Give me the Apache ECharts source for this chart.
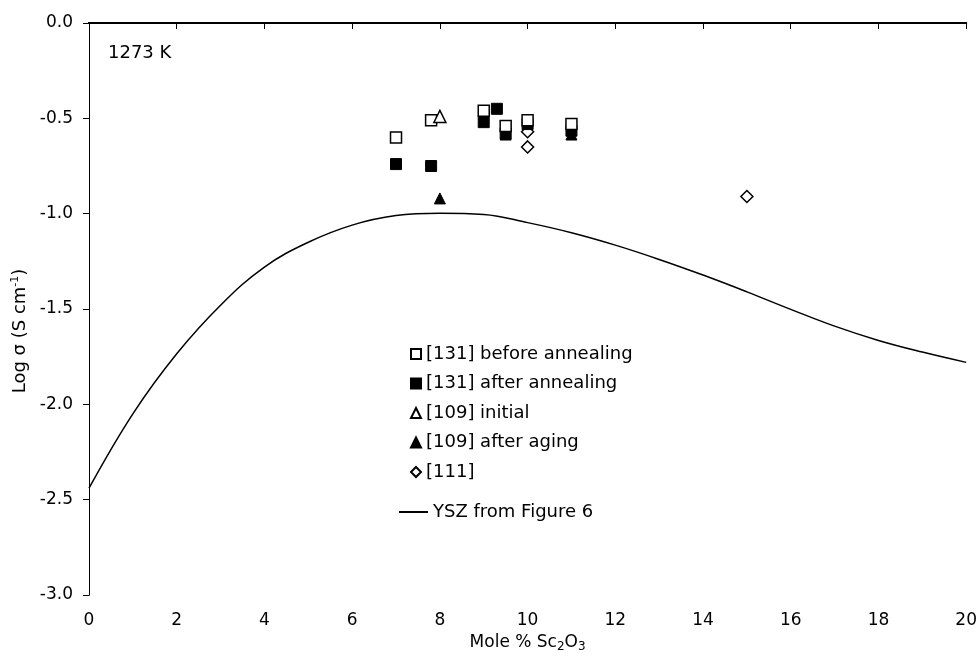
<!DOCTYPE html>
<html>
<head>
<meta charset="utf-8">
<script src="https://cdn.jsdelivr.net/npm/echarts@6/dist/echarts.min.js"></script>
<style>
  html, body { margin: 0; padding: 0; background: #fff; }
  #main { width: 980px; height: 658px; }
</style>
</head>
<body>
<div id="main"></div>
<script>
// [x, log sigma] points
var before131 = [[7, -0.60], [7.8, -0.51], [9, -0.46], [9.5, -0.54], [10, -0.51], [11, -0.53]];
var after131 = [[7, -0.74], [7.8, -0.75], [9, -0.52], [9.3, -0.45], [9.5, -0.58], [10, -0.53], [11, -0.565]];
var initial109 = [[8, -0.49]];
var aging109 = [[8, -0.92], [9.5, -0.585], [11, -0.585]];
var ref111 = [[10, -0.57], [10, -0.65], [15, -0.91]];
// YSZ curve
var yszX = [0, 1, 2, 3, 4, 5, 6, 7, 8, 9, 10, 11, 12, 13, 14, 15, 16, 17, 18, 19, 20];
var yszY = [-2.44, -2.05, -1.735, -1.48, -1.28, -1.15, -1.06, -1.01, -0.998, -1.004, -1.047, -1.10, -1.165, -1.24, -1.322, -1.41, -1.502, -1.59, -1.665, -1.726, -1.78];

var ysz = yszX.map(function (x, i) { return [x, yszY[i]]; });

var font = 'DejaVu Sans';
var myChart = echarts.init(document.getElementById('main'));

var option = {
  animation: false,
  backgroundColor: '#fff',
  textStyle: { fontFamily: font, color: '#000' },
  grid: { left: 89, right: 13, top: 23, bottom: 63 },
  xAxis: [
    {
      type: 'value', min: 0, max: 20, interval: 2,
      name: 'Mole % Sc{sub|2}O{sub|3}',
      nameLocation: 'middle', nameGap: 37,
      nameTextStyle: {
        fontSize: 17, fontFamily: font, color: '#000',
        rich: { sub: { fontSize: 12, verticalAlign: 'bottom', padding: [8, 0, 0, 0], fontFamily: font } }
      },
      axisLine: { lineStyle: { color: '#000', width: 2 } },
      axisTick: { length: 6, lineStyle: { color: '#000' } },
      axisLabel: { fontSize: 17, color: '#000', margin: 17 },
      splitLine: { show: false }
    },
    {
      type: 'value', min: 0, max: 20, position: 'top',
      axisLine: { lineStyle: { color: '#000', width: 2 } },
      axisTick: { show: false }, axisLabel: { show: false }, splitLine: { show: false }
    }
  ],
  yAxis: [
    {
      type: 'value', min: -3, max: 0, interval: 0.5,
      name: 'Log σ (S cm{sup|-1})',
      nameLocation: 'middle', nameGap: 58, nameRotate: 90,
      nameTextStyle: {
        fontSize: 18, fontFamily: font, color: '#000', padding: [0, 44, 0, 0],
        rich: { sup: { fontSize: 11, verticalAlign: 'top', padding: [0, 0, 9, 0], fontFamily: font } }
      },
      axisLine: { show: true, lineStyle: { color: '#000', width: 1 } },
      axisTick: { show: true, length: 6, lineStyle: { color: '#000' } },
      axisLabel: { fontSize: 17, color: '#000', margin: 16, formatter: function (v) { return v.toFixed(1); } },
      splitLine: { show: false }
    },
    {
      type: 'value', min: -3, max: 0, position: 'right',
      axisLine: { show: true, lineStyle: { color: '#000', width: 1 } },
      axisTick: { show: false }, axisLabel: { show: false }, splitLine: { show: false }
    }
  ],
  legend: [
    {
      orient: 'vertical', left: 410, top: 345, padding: 0,
      itemWidth: 10, itemHeight: 10, itemGap: 11.5,
      textStyle: { fontSize: 18, fontFamily: font, color: '#000' },
      data: ['[131] before annealing', '[131] after annealing', '[109] initial', '[109] after aging', '[111]']
    },
    {
      orient: 'vertical', left: 399, top: 503, padding: 0,
      itemWidth: 29, itemHeight: 2,
      textStyle: { fontSize: 18, fontFamily: font, color: '#000' },
      data: [{ name: 'YSZ from Figure 6', icon: 'rect' }]
    }
  ],
  graphic: [
    { type: 'text', left: 108, top: 44, style: { text: '1273 K', font: '18px ' + font, fill: '#000' } }
  ],
  series: [
    {
      name: 'YSZ from Figure 6', type: 'line', smooth: 0.4, showSymbol: false,
      symbol: 'none', lineStyle: { color: '#000', width: 1.5 }, itemStyle: { color: '#000' },
      data: ysz, z: 1
    },
    {
      name: '[131] after annealing', type: 'scatter', symbol: 'rect', symbolSize: 11,
      itemStyle: { color: '#000', borderColor: '#000', borderWidth: 1, opacity: 1 },
      data: after131, z: 3
    },
    {
      name: '[109] after aging', type: 'scatter', symbol: 'triangle', symbolSize: 11,
      itemStyle: { color: '#000', borderColor: '#000', borderWidth: 1, opacity: 1 },
      data: aging109, z: 2
    },
    {
      name: '[111]', type: 'scatter', symbol: 'diamond', symbolSize: 12,
      itemStyle: { color: '#fff', borderColor: '#000', borderWidth: 1.5, opacity: 1 },
      data: ref111, z: 2
    },
    {
      name: '[131] before annealing', type: 'scatter', symbol: 'rect', symbolSize: 11,
      itemStyle: { color: '#fff', borderColor: '#000', borderWidth: 1.5, opacity: 1 },
      data: before131, z: 4
    },
    {
      name: '[109] initial', type: 'scatter', symbol: 'triangle', symbolSize: 12,
      itemStyle: { color: '#fff', borderColor: '#000', borderWidth: 1.5, opacity: 1 },
      data: initial109, z: 4
    }
  ]
};

myChart.setOption(option);
</script>
</body>
</html>
